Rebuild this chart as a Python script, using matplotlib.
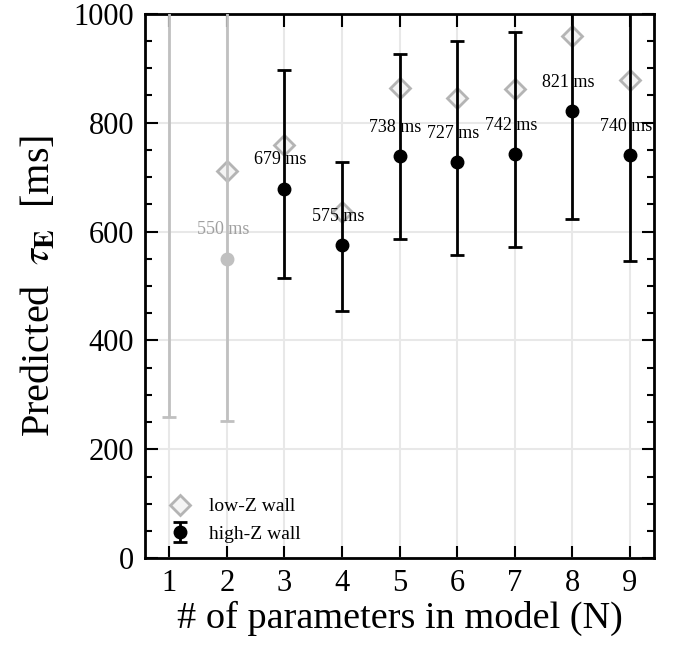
import numpy as np
import matplotlib
matplotlib.use("Agg")
import matplotlib.pyplot as plt
from matplotlib.ticker import MultipleLocator

plt.rcParams['font.family'] = ['Liberation Serif', 'DejaVu Serif']
plt.rcParams['mathtext.fontset'] = 'stix'

# Data
N = [1, 2, 3, 4, 5, 6, 7, 8, 9]
tau_pred = [1150, 550, 679, 575, 738, 727, 742, 821, 740]
tau_lower = [260, 253, 515, 455, 587, 557, 571, 623, 546]
tau_upper = [1500, 1400, 897, 728, 927, 950, 966, 1060, 1080]
lowz_tau = [np.nan, 711, 759, 636, 863, 845, 862, 959, 878]
faded_N = [1, 2]
labels = ['%d ms' % v for v in tau_pred]
y_max = 1000

fig = plt.figure(figsize=(6.75, 6.56), dpi=100)
ax = fig.add_axes([0.215, 0.149, 0.754, 0.830])

ax.grid(True, color='#e8e8e8', linewidth=1.5, zorder=0)

ax.plot(N, lowz_tau, linestyle='none', marker='D', markersize=10,
        markerfacecolor='#f4f4f4', markeredgecolor='#b4b4b4', markeredgewidth=2,
        label='low-Z wall', zorder=2)

for i, n in enumerate(N):
    faded = n in faded_N
    col = '#c0c0c0' if faded else 'black'
    yerr = [[tau_pred[i] - tau_lower[i]], [tau_upper[i] - tau_pred[i]]]
    kw = dict(label='high-Z wall') if n == 3 else {}
    ax.errorbar([n], [tau_pred[i]], yerr=yerr, fmt='o', color=col,
                markersize=9, elinewidth=2, capsize=5, capthick=2, zorder=3, **kw)
    if tau_pred[i] < y_max:
        ax.text(n - 0.07, tau_pred[i] + 53, labels[i], ha='center', va='center',
                fontsize=13, color=('#a0a0a0' if faded else 'black'), zorder=4)

ax.set_xlim(0.58, 9.42)
ax.set_ylim(0, y_max)
ax.set_xticks(N)
ax.yaxis.set_major_locator(MultipleLocator(200))
ax.yaxis.set_minor_locator(MultipleLocator(50))
ax.tick_params(which='both', direction='in', top=True, right=True, width=1.5, labelsize=22)
ax.tick_params(which='major', length=9, pad=8)
ax.tick_params(which='minor', length=5)
ax.tick_params(axis='x', which='minor', bottom=False, top=False)
for s in ax.spines.values():
    s.set_linewidth(2)

ax.set_xlabel('# of parameters in model (N)', fontsize=27.5, labelpad=2)
ax.set_ylabel(r'Predicted  $\tau_\mathbf{E}$  [ms]', fontsize=29, labelpad=11)

handles, labs = ax.get_legend_handles_labels()
ax.legend(handles, labs, loc='lower left', frameon=False, fontsize=14,
          handletextpad=0.5, borderaxespad=0.4)

fig.savefig('out.png', dpi=100)
